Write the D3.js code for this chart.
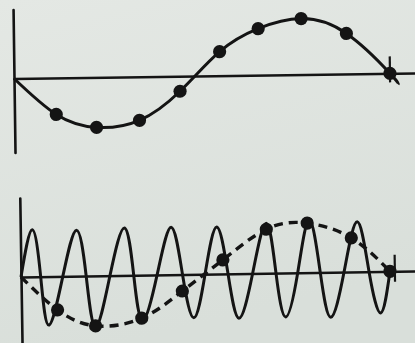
<!DOCTYPE html>
<html>
<head>
<meta charset="utf-8">
<script src="https://cdn.jsdelivr.net/npm/d3@7"></script>
<style>
  html, body { margin: 0; padding: 0; background: #dee4df; }
  svg { display: block; }
</style>
</head>
<body>
<svg id="chart" width="415" height="343"></svg>
<script>
// sample positions (in sample-interval units) (hand drawn, so not quite even)
const topSampleT = [1.0, 1.96, 2.99, 3.97, 4.93, 5.86, 6.89, 7.97, 9.0];
const bottomSampleT = [0.88, 1.80, 2.93, 3.93, 4.93, 6.0, 7.0, 8.07, 9.0];

const topSamples = [-0.73, -1.0, -0.87, -0.30, 0.48, 0.93, 1.12, 0.81, 0];
// curve passes through the origin and runs a little past the last sample
const topCurveT = [0, ...topSampleT, 9.19];
const topCurveV = [0, ...topSamples, -0.22];

// bottom panel: fast wave (peaks, troughs and crossings)
const fastT = [0, 0.29, 0.48, 0.66, 1.02, 1.37, 1.59, 1.80, 2.17, 2.54, 2.75, 2.95,
  3.32, 3.68, 3.94, 4.20, 4.49, 4.79, 5.05, 5.30, 5.65, 6.00, 6.22, 6.44,
  6.75, 7.05, 7.30, 7.54, 7.88, 8.22, 8.49, 8.76, 9.0];
const fastV = [0, 0.94, 0, -0.97, 0, 0.92, 0, -1.02, 0, 0.95, 0, -0.9,
  0, 0.95, 0, -0.87, 0, 0.94, 0, -0.89, 0, 1.0, 0, -0.88,
  0, 1.05, 0, -0.9, 0, 1.0, 0, -0.83, 0];

// bottom panel: samples of the fast wave, and the dashed alias through them
const bottomSamples = [-0.67, -1.0, -0.86, -0.33, 0.28, 0.88, 0.99, 0.68, 0];
const aliasT = [0, ...bottomSampleT];
const aliasV = [0, ...bottomSamples];

// end-of-period tick marks: [t, top value, bottom value]
const topTick = [9.0, 0.34, -0.18];
const bottomTick = [9.12, 0.33, -0.21];

const ink = "#141414";
const svg = d3.select("#chart");

// subtle paper shading
const defs = svg.append("defs");
const grad = defs.append("linearGradient").attr("id", "paper")
  .attr("x1", 0).attr("y1", 0).attr("x2", 0.3).attr("y2", 1);
grad.append("stop").attr("offset", "0%").attr("stop-color", "#e4e8e4");
grad.append("stop").attr("offset", "100%").attr("stop-color", "#d9dfda");
svg.append("rect").attr("width", 415).attr("height", 343).attr("fill", "url(#paper)");

function panel(opts) {
  const g = svg.append("g")
    .attr("transform", `translate(${opts.ox},${opts.oy}) rotate(${opts.rot})`);

  const x = d3.scaleLinear().domain([0, 9]).range([0, opts.span]);
  const y = d3.scaleLinear().domain([-1, 1]).range([50, -50]);

  // axes: bare lines, no ticks
  const xAxisScale = d3.scaleLinear().domain([0, 10.6]).range([0, x(10.6)]);
  const yAxisScale = d3.scaleLinear().domain(opts.yExtent).range([y(opts.yExtent[0]), y(opts.yExtent[1])]);
  const xa = g.append("g").call(d3.axisBottom(xAxisScale).tickValues([]).tickSizeOuter(0));
  const ya = g.append("g").call(d3.axisLeft(yAxisScale).tickValues([]).tickSizeOuter(0));
  [xa, ya].forEach(a => a.select(".domain")
    .attr("stroke", ink).attr("stroke-width", 2.6).attr("stroke-linecap", "round"));

  const line = d3.line().x(d => x(d[0])).y(d => y(d[1])).curve(d3.curveNatural);

  opts.curves.forEach(c => {
    g.append("path")
      .datum(d3.zip(c.t, c.v))
      .attr("fill", "none")
      .attr("stroke", ink)
      .attr("stroke-width", c.width)
      .attr("stroke-dasharray", c.dash || null)
      .attr("stroke-linejoin", "round")
      .attr("d", line);
  });

  // tick mark at the end of the period
  g.append("line")
    .attr("x1", x(opts.tick[0])).attr("x2", x(opts.tick[0]))
    .attr("y1", y(opts.tick[1])).attr("y2", y(opts.tick[2]))
    .attr("stroke", ink).attr("stroke-width", 2.2);

  g.selectAll("circle.sample")
    .data(d3.zip(opts.sampleT, opts.samples))
    .join("circle")
    .attr("class", "sample")
    .attr("cx", d => x(d[0]))
    .attr("cy", d => y(d[1]))
    .attr("r", 6.6)
    .attr("fill", ink);
}

panel({
  ox: 14, oy: 78.5, rot: -0.78, span: 376,
  yExtent: [-1.48, 1.38],
  curves: [{ t: topCurveT, v: topCurveV, width: 3 }],
  sampleT: topSampleT,
  samples: topSamples,
  tick: topTick
});

panel({
  ox: 21, oy: 277, rot: -0.88, span: 369,
  yExtent: [-1.45, 1.58],
  curves: [
    { t: fastT, v: fastV, width: 3 },
    { t: aliasT, v: aliasV, width: 3.4, dash: "9,6" }
  ],
  sampleT: bottomSampleT,
  samples: bottomSamples,
  tick: bottomTick
});
</script>
</body>
</html>
